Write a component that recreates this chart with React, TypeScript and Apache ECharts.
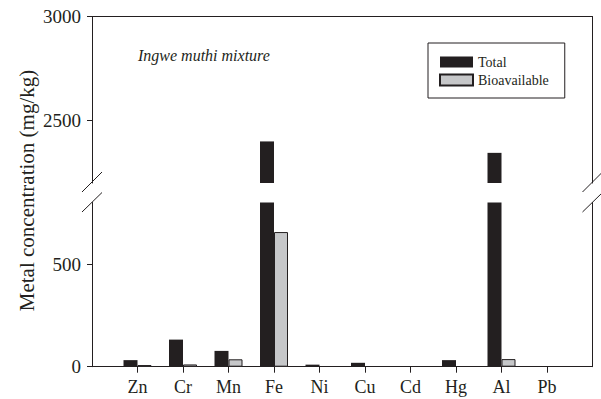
import React, { useEffect, useRef } from "react";
import * as echarts from "echarts";

const categories = ["Zn", "Cr", "Mn", "Fe", "Ni", "Cu", "Cd", "Hg", "Al", "Pb"];
const totalValues = [32, 132, 77, 2400, 10, 19, 0, 32, 2345, 0];
const bioValues = [8, 11, 36, 656, 0, 0, 0, 0, 37, 0];
const upperTicks = [2500, 3000];
const lowerTicks = [0, 500];
const seriesNames = ["Total", "Bioavailable"];

const FONT = "'Liberation Serif', 'Times New Roman', serif";
const INK = "#231f20";

const W = 601;
const H = 399;
const AX_L = 92;
const AX_R = 592.5;
const UP_TOP = 16.7;
const UP_BOT = 183;
const LO_TOP = 202.5;
const LO_BOT = 366.7;

export default function App() {
  const ref = useRef<HTMLDivElement>(null);
  useEffect(() => {
    if (!ref.current) return;
    const chart = echarts.init(ref.current, null, { renderer: "svg" });
    const xData = ["", ...categories, ""];
    const toBar = (v: number) => (v === 0 ? "-" : v);
    const tot = ["-", ...totalValues.map(toBar), "-"];
    const bio = ["-", ...bioValues.map(toBar), "-"];
    const isReal = (i: number) => i > 0 && i <= categories.length;

    const gridCommon = { left: AX_L, right: W - AX_R, outerBoundsMode: "none", containLabel: false };
    const yLeft = (gi: number, min: number, max: number, ticks: number[]) => ({
      type: "value",
      gridIndex: gi,
      min,
      max,
      position: "left",
      splitLine: { show: false },
      axisLine: { show: true, lineStyle: { color: INK, width: 1 } },
      axisTick: { show: true, length: 5, lineStyle: { color: INK, width: 1 }, customValues: ticks },
      axisLabel: {
        show: true,
        margin: 11,
        customValues: ticks,
        formatter: (v: number) => String(v),
        color: INK,
        fontFamily: FONT,
        fontSize: 19,
      },
    });
    const yRight = (gi: number, min: number, max: number) => ({
      type: "value",
      gridIndex: gi,
      min,
      max,
      position: "right",
      splitLine: { show: false },
      axisLine: { show: true, onZero: false, lineStyle: { color: INK, width: 1 } },
      axisTick: { show: false },
      axisLabel: { show: false },
    });

    const barCommon = { barWidth: 14, barGap: "0%", clip: true };
    const totalStyle = { color: INK };
    const bioStyle = { color: "#c6c7c9", borderColor: INK, borderWidth: 1 };

    chart.setOption({
      animation: false,
      backgroundColor: "#ffffff",
      textStyle: { fontFamily: FONT },
      grid: [
        { ...gridCommon, top: UP_TOP, height: UP_BOT - UP_TOP },
        { ...gridCommon, top: LO_TOP, height: LO_BOT - LO_TOP },
      ],
      xAxis: [
        {
          type: "category",
          gridIndex: 0,
          data: xData,
          boundaryGap: false,
          position: "top",
          axisLine: { show: true, onZero: false, lineStyle: { color: INK, width: 1 } },
          axisTick: { show: false },
          axisLabel: { show: false },
          splitLine: { show: false },
        },
        {
          type: "category",
          gridIndex: 1,
          data: xData,
          boundaryGap: false,
          position: "bottom",
          axisLine: { show: true, onZero: false, lineStyle: { color: INK, width: 1 } },
          axisTick: {
            show: true,
            length: 6,
            interval: (i: number) => isReal(i),
            lineStyle: { color: INK, width: 1 },
          },
          axisLabel: {
            show: true,
            interval: (i: number) => isReal(i),
            margin: 11,
            color: INK,
            fontFamily: FONT,
            fontSize: 18,
          },
          splitLine: { show: false },
        },
      ],
      yAxis: [
        yLeft(0, 2200, 3000, upperTicks),
        yRight(0, 2200, 3000),
        yLeft(1, 0, 800, lowerTicks),
        yRight(1, 0, 800),
      ],
      legend: {
        show: true,
        orient: "vertical",
        left: 428,
        top: 43,
        width: 110,
        padding: [12, 16, 11, 11],
        itemWidth: 33,
        itemHeight: 11,
        itemGap: 4,
        borderColor: INK,
        borderWidth: 1,
        backgroundColor: "#ffffff",
        data: seriesNames,
        icon: "rect",
        textStyle: { fontFamily: FONT, fontSize: 14, color: INK, lineHeight: 14 },
      },
      series: [
        { ...barCommon, type: "bar", name: seriesNames[0], xAxisIndex: 0, yAxisIndex: 0, data: tot, itemStyle: totalStyle },
        { ...barCommon, type: "bar", name: seriesNames[1], xAxisIndex: 0, yAxisIndex: 0, data: bio, itemStyle: bioStyle },
        { ...barCommon, type: "bar", name: seriesNames[0], xAxisIndex: 1, yAxisIndex: 2, data: tot, itemStyle: totalStyle },
        { ...barCommon, type: "bar", name: seriesNames[1], xAxisIndex: 1, yAxisIndex: 2, data: bio, itemStyle: bioStyle },
      ],
      graphic: [
        {
          type: "text",
          x: 27,
          y: 190.5,
          rotation: Math.PI / 2,
          style: {
            text: "Metal concentration (mg/kg)",
            font: `21px ${FONT}`,
            fill: INK,
            textAlign: "center",
            textVerticalAlign: "middle",
          },
        },
        {
          type: "text",
          x: 138,
          y: 55,
          style: {
            text: "Ingwe muthi mixture",
            font: `italic 16px ${FONT}`,
            fill: INK,
            textAlign: "left",
            textVerticalAlign: "middle",
          },
        },
        ...[AX_L, AX_R].flatMap((ax) => [
          { type: "line", shape: { x1: ax - 10, y1: UP_BOT + 9, x2: ax + 10, y2: UP_BOT - 11 }, style: { stroke: INK, lineWidth: 1 } },
          { type: "line", shape: { x1: ax - 10, y1: LO_TOP + 9.5, x2: ax + 10, y2: LO_TOP - 10 }, style: { stroke: INK, lineWidth: 1 } },
        ]),
      ],
    });
    return () => chart.dispose();
  }, []);
  return <div ref={ref} style={{ width: W, height: H, position: "absolute", left: 0, top: 0 }} />;
}
